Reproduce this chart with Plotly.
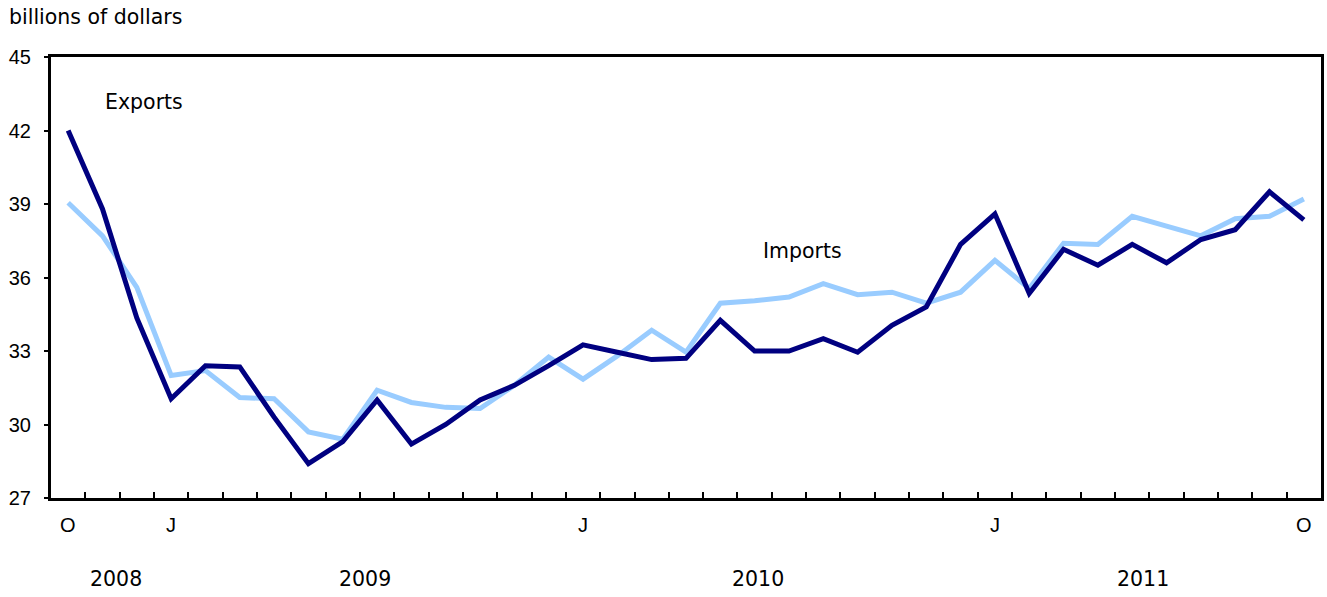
import plotly.graph_objects as go

months = list(range(37))  # Oct 2008 .. Oct 2011
exports = [42.0, 38.8, 34.35, 31.05, 32.4, 32.35, 30.3, 28.4, 29.3, 31.0, 29.2, 30.0,
           31.0, 31.6, 32.4, 33.25, 32.95, 32.65, 32.7, 34.25, 33.0, 33.0, 33.5, 32.95,
           34.05, 34.8, 37.35, 38.6, 35.35, 37.15, 36.5, 37.35, 36.6, 37.55, 37.95, 39.5, 38.35]
imports = [39.05, 37.7, 35.6, 32.0, 32.2, 31.1, 31.05, 29.7, 29.4, 31.4, 30.9, 30.7,
           30.65, 31.6, 32.75, 31.85, 32.8, 33.85, 32.95, 34.95, 35.05, 35.2, 35.75, 35.3,
           35.4, 34.95, 35.4, 36.7, 35.55, 37.4, 37.35, 38.5, 38.1, 37.7, 38.4, 38.5, 39.2]
month_label_pos = [0, 3, 15, 27, 36]
month_labels = ["O", "J", "J", "J", "O"]
year_label_pos = [1.4, 8.65, 20.1, 31.3]
year_labels = ["2008", "2009", "2010", "2011"]
y_ticks = [27, 30, 33, 36, 39, 42, 45]

fig = go.Figure()
fig.add_trace(go.Scatter(x=months, y=imports, mode="lines", name="Imports",
                         line=dict(color="#99ccff", width=5)))
fig.add_trace(go.Scatter(x=months, y=exports, mode="lines", name="Exports",
                         line=dict(color="#000080", width=5)))

tick_font = dict(family="Liberation Sans, Arial", size=20, color="#000")
label_font = dict(family="DejaVu Sans, Verdana", size=20.5, color="#000")

ann = []
for p, t in zip(month_label_pos, month_labels):
    ann.append(dict(x=p, y=0, xref="x", yref="paper", yshift=-27, text=t,
                    showarrow=False, font=tick_font, xanchor="center", yanchor="middle"))
for p, t in zip(year_label_pos, year_labels):
    ann.append(dict(x=p, y=0, xref="x", yref="paper", yshift=-81, text=t,
                    showarrow=False, font=label_font, xanchor="center", yanchor="middle"))
ann.append(dict(x=0, y=1, xref="paper", yref="paper", xshift=-44, yshift=40, text="billions of dollars",
                showarrow=False, font=label_font, xanchor="left", yanchor="middle"))
ann.append(dict(x=2.2, y=43.15, xref="x", yref="y", text="Exports",
                showarrow=False, font=label_font, xanchor="center", yanchor="middle"))
ann.append(dict(x=21.4, y=37.1, xref="x", yref="y", text="Imports",
                showarrow=False, font=label_font, xanchor="center", yanchor="middle"))

fig.update_layout(
    width=1327, height=597,
    margin=dict(l=51, r=6, t=57, b=99),
    plot_bgcolor="white", paper_bgcolor="white",
    showlegend=False,
    hovermode=False,
    annotations=ann,
    xaxis=dict(range=[-0.5, 36.5], tickvals=[k + 0.5 for k in range(36)],
               ticktext=[""] * 36, ticks="inside", ticklen=6, tickwidth=2, tickcolor="#000",
               showline=True, linecolor="#000", linewidth=3, mirror=True,
               showgrid=False, zeroline=False, fixedrange=True),
    yaxis=dict(range=[27, 45], tickvals=y_ticks, ticks="outside", ticklen=4, tickwidth=2,
               tickcolor="#000", tickfont=tick_font, ticklabelstandoff=9,
               showline=True, linecolor="#000", linewidth=3, mirror=True,
               showgrid=False, zeroline=False, fixedrange=True, automargin=False),
)
fig.write_html("out.html", config={"displayModeBar": False},
               post_script="document.body.style.margin='0';")
